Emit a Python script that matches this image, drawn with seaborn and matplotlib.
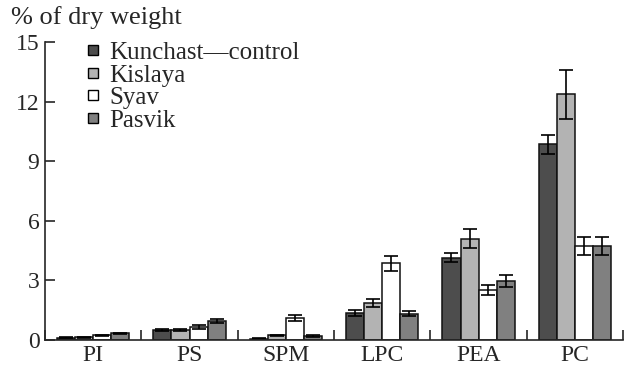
import numpy as np
import pandas as pd
import matplotlib
matplotlib.use("Agg")
import matplotlib.pyplot as plt
import matplotlib.lines as mlines
import seaborn as sns

lipids = ["PI", "PS", "SPM", "LPC", "PEA", "PC"]
sites = ["Kunchast\u2014control", "Kislaya", "Syav", "Pasvik"]
site_colors = ["#4d4d4d", "#b3b3b3", "#ffffff", "#808080"]

# % of dry weight, one list per site (order follows lipids)
kunchast = [0.10, 0.50, 0.05, 1.36, 4.14, 9.85]
kislaya = [0.13, 0.50, 0.22, 1.87, 5.10, 12.37]
syav = [0.23, 0.67, 1.08, 3.85, 2.52, 4.73]
pasvik = [0.33, 0.95, 0.20, 1.32, 2.95, 4.73]

kunchast_err = [0.02, 0.04, 0.02, 0.15, 0.22, 0.47]
kislaya_err = [0.02, 0.04, 0.04, 0.20, 0.49, 1.23]
syav_err = [0.03, 0.10, 0.15, 0.38, 0.26, 0.47]
pasvik_err = [0.03, 0.12, 0.04, 0.14, 0.31, 0.47]

values = [kunchast, kislaya, syav, pasvik]
errors = [kunchast_err, kislaya_err, syav_err, pasvik_err]

df = pd.DataFrame({
    "lipid": np.tile(lipids, len(sites)),
    "site": np.repeat(sites, len(lipids)),
    "value": np.concatenate(values),
    "err": np.concatenate(errors),
})

sns.set_style("ticks")
plt.rcParams["font.family"] = ["Liberation Serif", "DejaVu Serif"]
plt.rcParams["font.size"] = 17

fig = plt.figure(figsize=(6.25, 3.71), dpi=100)
ax = fig.add_axes([0.072, 0.084, 0.925, 0.803])

sns.barplot(data=df, x="lipid", y="value", hue="site", order=lipids,
            hue_order=sites, palette=site_colors, width=0.75, gap=0,
            errorbar=None, edgecolor="#111111", linewidth=1.1, ax=ax,
            legend=False)

# error bars at each bar's centre
for i, site in enumerate(sites):
    sub = df[df["site"] == site].set_index("lipid").loc[lipids]
    xs = np.arange(len(lipids)) + (i - 1.5) * 0.75 / 4
    ax.errorbar(xs, sub["value"], yerr=sub["err"], fmt="none",
                ecolor="black", elinewidth=1.2, capsize=5, capthick=1.2)

ax.set_xlim(-0.5, len(lipids) - 0.5)
ax.set_ylim(0, 15)
ax.set_yticks([0, 3, 6, 9, 12, 15])
ax.set_xlabel("")
ax.set_ylabel("")
ax.set_xticks(np.arange(len(lipids)))
ax.set_xticklabels(lipids)
ax.set_xticks(np.arange(-0.5, len(lipids)), minor=True)
ax.tick_params(axis="x", which="major", length=0, pad=4, labelsize=17)
ax.tick_params(axis="x", which="minor", direction="in", length=7, width=1.2)
ax.tick_params(axis="y", direction="in", length=7, width=1.2, pad=4,
               labelsize=17)
for s in ["top", "right"]:
    ax.spines[s].set_visible(False)
for s in ["left", "bottom"]:
    ax.spines[s].set_linewidth(1.2)

fig.text(0.018, 0.952, "% of dry weight", fontsize=19, va="center")

handles = [mlines.Line2D([], [], marker="s", linestyle="none", markersize=7.5,
                         markerfacecolor=c, markeredgecolor="black",
                         markeredgewidth=1, label=s)
           for s, c in zip(sites, site_colors)]
ax.legend(handles=handles, loc="upper left", bbox_to_anchor=(0.047, 1.043),
          frameon=False, fontsize=18, handlelength=0.7, handletextpad=0.3,
          labelspacing=0.0, borderpad=0)

fig.savefig("out.png", dpi=100)
